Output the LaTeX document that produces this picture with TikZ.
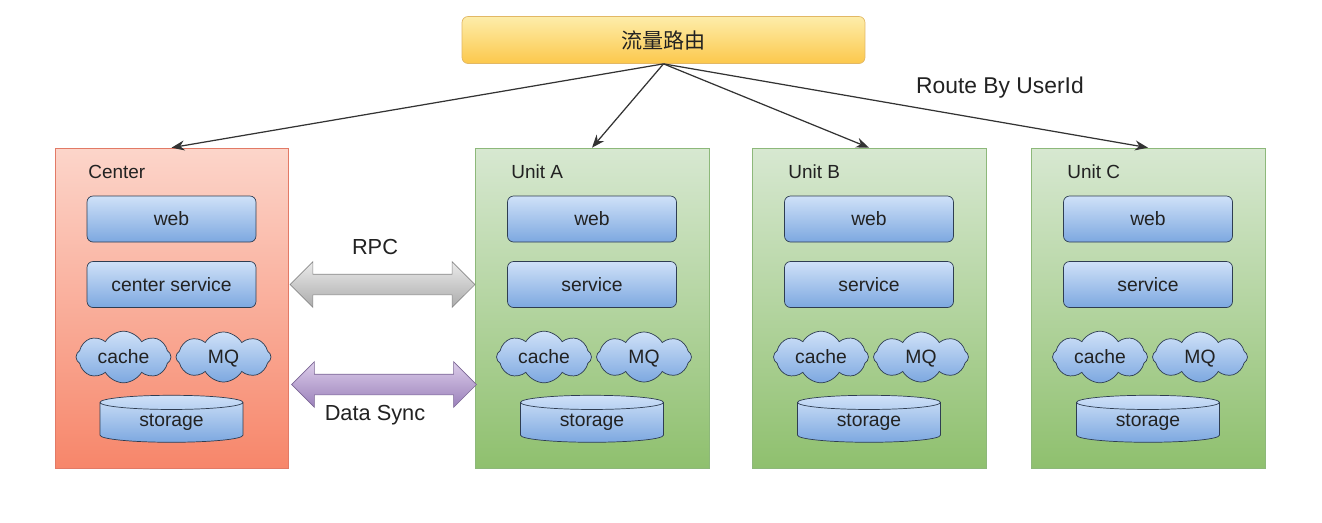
\documentclass[tikz,border=0pt]{standalone}
\usepackage{fontspec}
\setmainfont{Liberation Sans}
\newfontfamily\cjk{Noto Sans CJK SC}
\usetikzlibrary{shapes.geometric,shapes.symbols,shapes.arrows,arrows.meta}
\definecolor{txt}{HTML}{222222}
\definecolor{routetop}{HTML}{FDEDAA}
\definecolor{routebot}{HTML}{FCC84C}
\definecolor{routeline}{HTML}{E2B865}
\definecolor{ctrtop}{HTML}{FCD5CA}
\definecolor{ctrbot}{HTML}{F7866A}
\definecolor{ctrline}{HTML}{E27A66}
\definecolor{unittop}{HTML}{D7E8D1}
\definecolor{unitbot}{HTML}{8FC06E}
\definecolor{unitline}{HTML}{8DB87A}
\definecolor{comptop}{HTML}{CFE1F8}
\definecolor{compbot}{HTML}{7DA8E0}
\definecolor{compline}{HTML}{2E3D52}
\definecolor{rpctop}{HTML}{EBEBEB}
\definecolor{rpcbot}{HTML}{ABABAB}
\definecolor{synctop}{HTML}{DCCDEA}
\definecolor{syncbot}{HTML}{9A80BA}
\begin{document}
\begin{tikzpicture}[x=0.02cm, y=-0.02cm, text=txt,
  router/.style={draw=routeline, top color=routetop, bottom color=routebot,
    rounded corners=0.12cm, minimum width=8.06cm, minimum height=0.94cm,
    font=\cjk\fontsize{12}{14}\selectfont},
  center box/.style={draw=ctrline, top color=ctrtop, bottom color=ctrbot,
    minimum width=4.66cm, minimum height=6.4cm, inner sep=0},
  unit box/.style={draw=unitline, top color=unittop, bottom color=unitbot,
    minimum width=4.68cm, minimum height=6.4cm, inner sep=0},
  boxlabel/.style={anchor=west, inner sep=0, font=\fontsize{10.8}{13}\selectfont},
  comp/.style={draw=compline, top color=comptop, bottom color=compbot,
    rounded corners=0.12cm, minimum width=3.38cm, minimum height=0.92cm,
    font=\fontsize{11}{13}\selectfont},
  cloudbox/.style={cloud, cloud puffs=8, cloud puff arc=120, aspect=1.9,
    draw=compline, top color=comptop, bottom color=compbot, inner sep=0,
    text height=1.6ex, text depth=0.3ex,
    minimum width=1.9cm, minimum height=1.0cm, font=\fontsize{11}{13}\selectfont},
  db/.style={cylinder, shape border rotate=90, aspect=0.22, draw=compline,
    top color=comptop, bottom color=compbot, inner sep=0,
    minimum width=2.86cm, minimum height=0.94cm, font=\fontsize{11}{13}\selectfont},
  link/.style={-{Stealth[length=2.6mm, width=2mm]}, line width=0.7pt, draw=black!80},
  bigarrow/.style={double arrow, double arrow head extend=0.25cm, inner sep=0,
    inner ysep=0.2cm, minimum height=3.7cm, minimum width=0.9cm},
  caption/.style={font=\fontsize{12.4}{15}\selectfont}]
\useasboundingbox[fill=white] (0,0) rectangle (1322,522);

% traffic router
\node (route) [router] at (663.5,40) {流量路由};
\node (routelabel) [font=\fontsize{13}{16}\selectfont] at (1000,88) {Route By UserId};

% center
\node (ctr) [center box] at (171.5,308) {};
\node (ctrlabel) [boxlabel] at (88,172) {Center};
\node (ctrweb) [comp] at (171.5,219) {web};
\node (ctrsvc) [comp] at (171.5,284.5) {center service};
\node (ctrcache) [cloudbox] at (123.5,357) {cache};
\node (ctrmq) [cloudbox] at (223.5,357) {MQ};
\node (ctrdb) [db] at (171.5,422.5) {storage};

% unit A
\node (unitA) [unit box] at (592,308) {};
\node (unitAlabel) [boxlabel] at (511,172) {Unit A};
\node (unitAweb) [comp] at (592,219) {web};
\node (unitAsvc) [comp] at (592,284.5) {service};
\node (unitAcache) [cloudbox] at (544,357) {cache};
\node (unitAmq) [cloudbox] at (644,357) {MQ};
\node (unitAdb) [db] at (592,422.5) {storage};

% unit B
\node (unitB) [unit box] at (869,308) {};
\node (unitBlabel) [boxlabel] at (788,172) {Unit B};
\node (unitBweb) [comp] at (869,219) {web};
\node (unitBsvc) [comp] at (869,284.5) {service};
\node (unitBcache) [cloudbox] at (821,357) {cache};
\node (unitBmq) [cloudbox] at (921,357) {MQ};
\node (unitBdb) [db] at (869,422.5) {storage};

% unit C
\node (unitC) [unit box] at (1148,308) {};
\node (unitClabel) [boxlabel] at (1067,172) {Unit C};
\node (unitCweb) [comp] at (1148,219) {web};
\node (unitCsvc) [comp] at (1148,284.5) {service};
\node (unitCcache) [cloudbox] at (1100,357) {cache};
\node (unitCmq) [cloudbox] at (1200,357) {MQ};
\node (unitCdb) [db] at (1148,422.5) {storage};

% center <-> unit A
\node (rpc) [bigarrow, draw=rpcbot!80!black, top color=rpctop, bottom color=rpcbot]
  at (382.5,284.5) {};
\node (rpclabel) [caption] at (375,247) {RPC};
\node (sync) [bigarrow, draw=syncbot!80!black, top color=synctop, bottom color=syncbot]
  at (384,384.5) {};
\node (synclabel) [caption] at (375,415) {Data Sync};

\draw [link] (route.south) -- (ctr.north);
\draw [link] (route.south) -- (unitA.north);
\draw [link] (route.south) -- (unitB.north);
\draw [link] (route.south) -- (unitC.north);
\end{tikzpicture}
\end{document}
